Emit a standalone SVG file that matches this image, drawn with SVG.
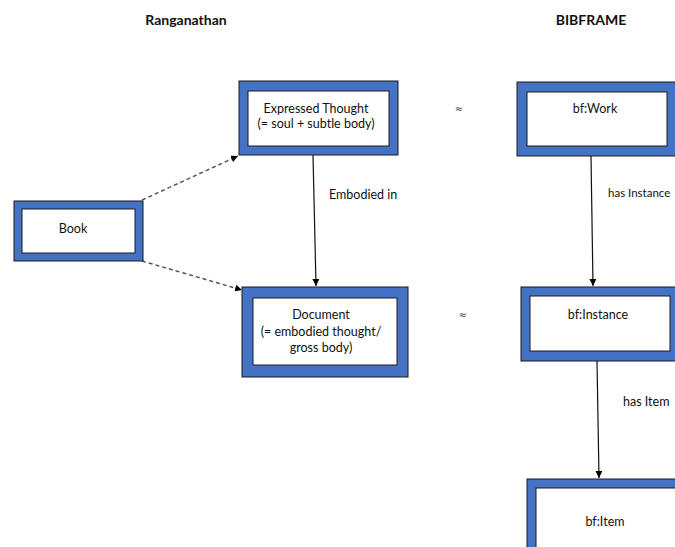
<svg xmlns="http://www.w3.org/2000/svg" width="675" height="547" viewBox="0 0 675 547">
  <defs>
    <marker id="arrow" viewBox="0 0 10 10" refX="10" refY="5" markerWidth="7" markerHeight="7" markerUnits="userSpaceOnUse" orient="auto">
      <path d="M0,0 L10,5 L0,10 z" fill="#000"/>
    </marker>
  </defs>
  <style>
    .frame { fill: #4472C4; stroke: #1a1a1a; stroke-width: 1; }
    .inner { fill: #ffffff; stroke: #1a1a1a; stroke-width: 1; }
    .lbl { font-family: Lato, "Liberation Sans", sans-serif; font-size: 12.5px; fill: #111; text-anchor: middle; }
    .edge-lbl { font-family: Lato, "Liberation Sans", sans-serif; font-size: 12.5px; fill: #111; }
    .title { font-family: Lato, "Liberation Sans", sans-serif; font-size: 14px; font-weight: bold; fill: #111; text-anchor: middle; }
    .approx { font-family: "DejaVu Sans", sans-serif; font-size: 10px; fill: #333; text-anchor: middle; }
    .solid { stroke: #111; stroke-width: 1.2; fill: none; marker-end: url(#arrow); }
    .dashed { stroke: #555; stroke-width: 1.5; stroke-dasharray: 4 3; fill: none; marker-end: url(#arrow); }
  </style>

  <rect width="675" height="547" fill="#ffffff"/>

  <!-- column headings -->
  <text class="title" x="186" y="25">Ranganathan</text>
  <text class="title" x="591" y="25">BIBFRAME</text>

  <!-- connectors -->
  <g id="connectors">
    <path class="dashed" d="M142,200 L238,156"/>
    <path class="dashed" d="M142,261 L242,290"/>
    <path class="solid" d="M313,155 L316,286"/>
    <path class="solid" d="M591,156 L593,286"/>
    <path class="solid" d="M597,361 L599,478"/>
    <text class="edge-lbl" x="329" y="199">Embodied in</text>
    <text class="edge-lbl" x="608" y="197" style="font-size:11.5px">has Instance</text>
    <text class="edge-lbl" x="623" y="406">has Item</text>
    <text class="approx" x="459" y="112">≈</text>
    <text class="approx" x="463" y="318">≈</text>
  </g>

  <g id="book">
    <rect class="frame" x="14" y="201" width="129" height="60"/>
    <rect class="inner" x="22" y="209" width="113" height="44"/>
    <text class="lbl" x="73" y="233">Book</text>
  </g>

  <g id="expressed-thought">
    <rect class="frame" x="239" y="81" width="159" height="74"/>
    <rect class="inner" x="248" y="91" width="141" height="55"/>
    <text class="lbl" x="316" y="113">Expressed Thought</text>
    <text class="lbl" x="316" y="127.5">(= soul + subtle body)</text>
  </g>

  <g id="document">
    <rect class="frame" x="242" y="287" width="166" height="90"/>
    <rect class="inner" x="253" y="298" width="144" height="67"/>
    <text class="lbl" x="321" y="319">Document</text>
    <text class="lbl" x="321" y="336">(= embodied thought/</text>
    <text class="lbl" x="321" y="352">gross body)</text>
  </g>

  <g id="bf-work">
    <rect class="frame" x="517" y="82" width="162" height="74"/>
    <rect class="inner" x="527" y="92" width="140" height="54"/>
    <text class="lbl" x="595" y="113">bf:Work</text>
  </g>

  <g id="bf-instance">
    <rect class="frame" x="521" y="287" width="160" height="74"/>
    <rect class="inner" x="530" y="296" width="140" height="55"/>
    <text class="lbl" x="598" y="319">bf:Instance</text>
  </g>

  <g id="bf-item">
    <rect class="frame" x="527" y="479" width="160" height="80"/>
    <rect class="inner" x="536" y="488" width="140" height="70"/>
    <text class="lbl" x="605" y="526">bf:Item</text>
  </g>
</svg>
